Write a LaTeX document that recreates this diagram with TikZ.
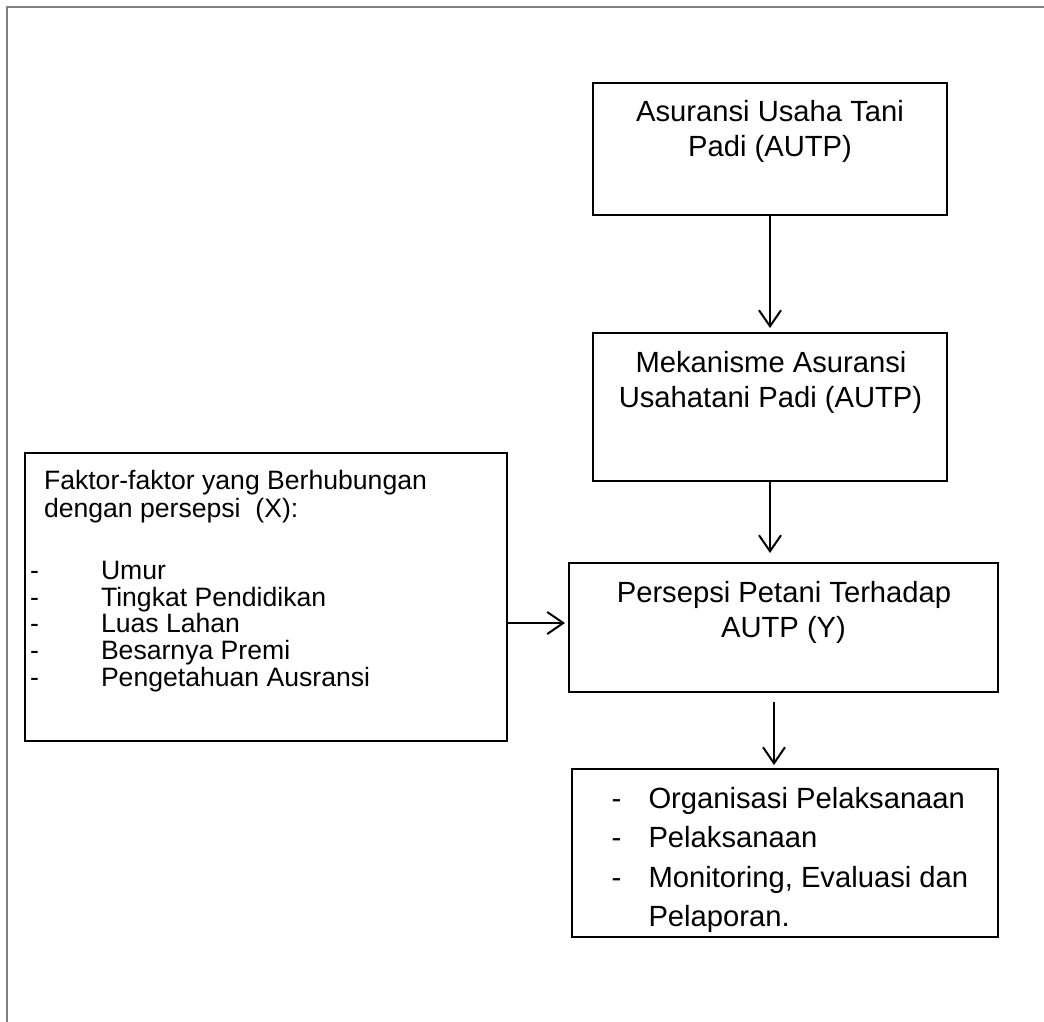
\documentclass[tikz,border=0pt]{standalone}
\usepackage{fontspec}
\setmainfont{Liberation Sans}
\usetikzlibrary{arrows.meta,calc}
\definecolor{framegray}{HTML}{808080}
\tikzset{
  box/.style={draw=black, line width=2pt, inner sep=0pt, outer sep=0pt, rectangle},
  tbig/.style={font=\fontsize{29.2}{35}\selectfont, inner sep=0pt, outer sep=0pt, anchor=base},
  tbigl/.style={tbig, anchor=base west},
  tsmall/.style={font=\fontsize{26.6}{31}\selectfont, inner sep=0pt, outer sep=0pt, anchor=base west},
  arr/.style={-{Straight Barb[length=16pt,width=22pt,line width=2pt]}, line width=2pt},
  outerframe/.style={draw=framegray, line width=2.2pt}
}
\begin{document}
\begin{tikzpicture}[x=1pt,y=-1pt]
\useasboundingbox (0,0) rectangle (1044,1021);
\draw[outerframe] (7,1022) -- (7,7) -- (1045,7);

% boxes
\node[box, minimum width=354pt, minimum height=132pt] (b1) at (770,149) {};
\node[box, minimum width=354pt, minimum height=148pt] (b2) at (770,407) {};
\node[box, minimum width=482pt, minimum height=288pt] (b3) at (266,597) {};
\node[box, minimum width=429pt, minimum height=129pt] (b4) at (783.5,627.5) {};
\node[box, minimum width=426pt, minimum height=168pt] (b5) at (785,853) {};

% box 1 text
\node[tbig] (t11) at (770,121) {Asuransi Usaha Tani};
\node[tbig] (t12) at (770,156) {Padi (AUTP)};
% box 2 text
\node[tbig] (t21) at (771,372) {Mekanisme Asuransi};
\node[tbig] (t22) at (770.5,407) {Usahatani Padi (AUTP)};
% box 4 text
\node[tbig] (t41) at (784,602) {Persepsi Petani Terhadap};
\node[tbig] (t42) at (783.5,637) {AUTP (Y)};
% box 5 text
\node[tbigl] (d51) at (611.5,808) {-};
\node[tbigl] (t51) at (648.5,808) {Organisasi Pelaksanaan};
\node[tbigl] (d52) at (611.5,847.5) {-};
\node[tbigl] (t52) at (648.5,847.5) {Pelaksanaan};
\node[tbigl] (d53) at (611.5,887) {-};
\node[tbigl] (t53) at (648.5,887) {Monitoring, Evaluasi dan};
\node[tbigl] (t54) at (648.5,926) {Pelaporan.};
% box 3 text
\node[tsmall] (t31) at (44,489) {Faktor-faktor yang Berhubungan};
\node[tsmall] (t32) at (44,517) {dengan persepsi\ \ (X):};
\node[tsmall] (d33) at (30,579) {-};
\node[tsmall] (t33) at (101,579) {Umur};
\node[tsmall] (d34) at (30,606) {-};
\node[tsmall] (t34) at (101,606) {Tingkat Pendidikan};
\node[tsmall] (d35) at (30,632) {-};
\node[tsmall] (t35) at (101,632) {Luas Lahan};
\node[tsmall] (d36) at (30,659) {-};
\node[tsmall] (t36) at (101,659) {Besarnya Premi};
\node[tsmall] (d37) at (30,686) {-};
\node[tsmall] (t37) at (101,686) {Pengetahuan Ausransi};

% arrows
\draw[arr] (b1.south) -- ([yshift=5pt]b2.north);
\draw[arr] (b2.south) -- ($(b4.north)+(-13.5,-10)$);
\draw[arr] ($(b4.south)+(-9.5,10)$) -- ($(b5.north)+(-11,-4)$);
\draw[arr] (b3.east |- 0,623) -- ($(b4.west |- 0,623)+(-4,0)$);
\end{tikzpicture}
\end{document}
